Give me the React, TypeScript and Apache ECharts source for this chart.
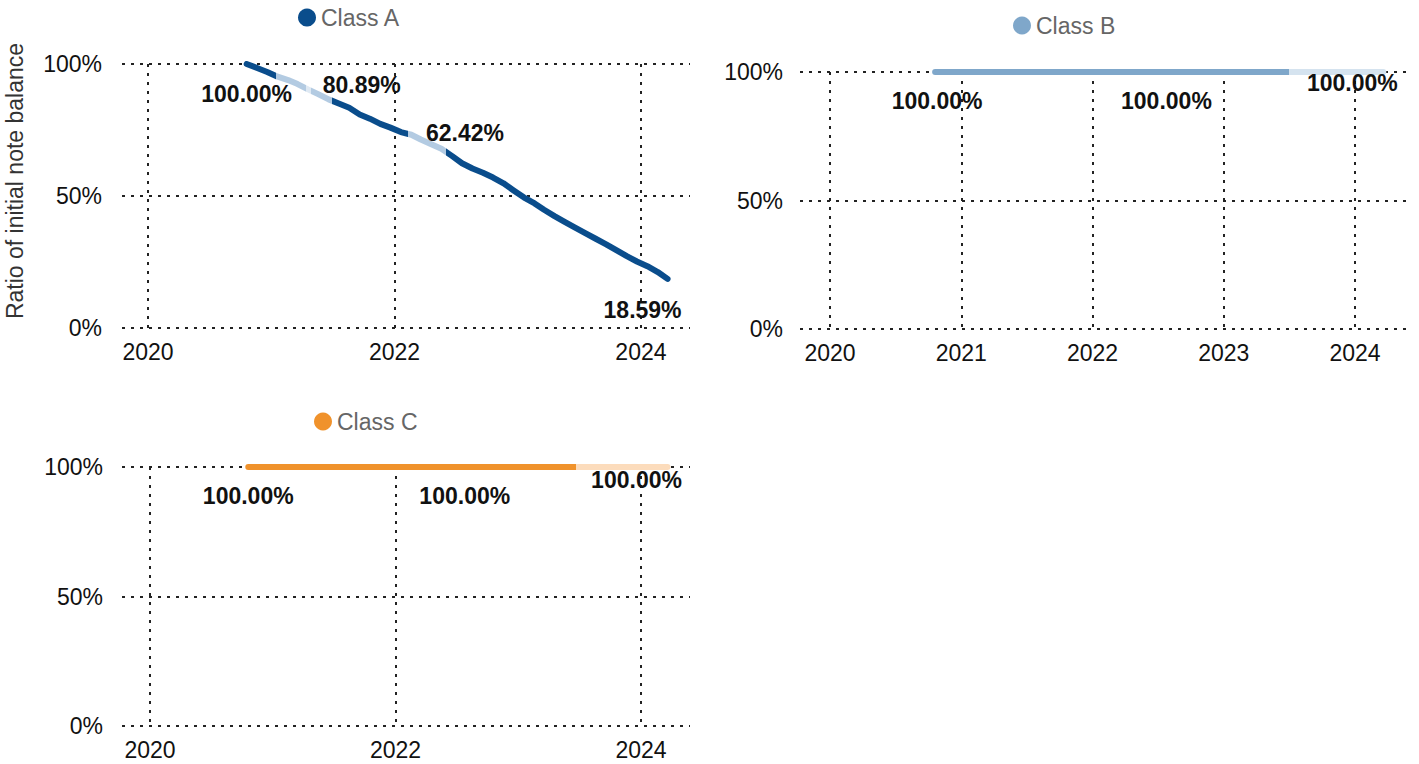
import React, { useEffect, useRef } from 'react';
import * as echarts from 'echarts';

const months = [
  '2020-10-20', '2020-11-20', '2020-12-20',
  '2021-01-20', '2021-02-20', '2021-03-20', '2021-04-20', '2021-05-20', '2021-06-20',
  '2021-07-20', '2021-08-20', '2021-09-20', '2021-10-20', '2021-11-20', '2021-12-20',
  '2022-01-20', '2022-02-20', '2022-03-20', '2022-04-20', '2022-05-20', '2022-06-20',
  '2022-07-20', '2022-08-20', '2022-09-20', '2022-10-20', '2022-11-20', '2022-12-20',
  '2023-01-20', '2023-02-20', '2023-03-20', '2023-04-20', '2023-05-20', '2023-06-20',
  '2023-07-20', '2023-08-20', '2023-09-20', '2023-10-20', '2023-11-20', '2023-12-20',
  '2024-01-20', '2024-02-20', '2024-03-20',
];

const classA = [
  100, 98.5, 97.0, 95.2, 93.9, 92.4, 90.4, 88.6, 86.6, 85.0, 83.4, 80.89,
  79.3, 77.3, 75.9, 74.2, 73.2, 71.4, 69.6, 67.9, 65.2, 62.42, 60.4, 58.8,
  57.0, 54.8, 52.1, 49.4, 47.2, 44.8, 42.4, 40.2, 38.0, 35.9, 33.8, 31.7,
  29.5, 27.2, 25.2, 23.4, 21.2, 18.59,
];
const classB = [
  100, 100, 100, 100, 100, 100, 100, 100, 100, 100, 100, 100,
  100, 100, 100, 100, 100, 100, 100, 100, 100, 100, 100, 100,
  100, 100, 100, 100, 100, 100, 100, 100, 100, 100, 100, 100,
  100, 100, 100, 100, 100, 100,
];
const classC = [
  100, 100, 100, 100, 100, 100, 100, 100, 100, 100, 100, 100,
  100, 100, 100, 100, 100, 100, 100, 100, 100, 100, 100, 100,
  100, 100, 100, 100, 100, 100, 100, 100, 100, 100, 100, 100,
  100, 100, 100, 100, 100, 100,
];

const seriesNames = ['Class A', 'Class B', 'Class C'];
const labeledA = [0, 11, 21, 41];
const labeledB = [0, 21, 41];
const labeledC = [0, 21, 41];

const yTicks = [0, 50, 100];
const xTicksA = [2020, 2022, 2024];
const xTicksB = [2020, 2021, 2022, 2023, 2024];
const xTicksC = [2020, 2022, 2024];

// light-segment ranges (in decimal years)
const lightA = [[2021.04, 2021.28], [2021.28, 2021.32], [2021.32, 2021.49], [2022.11, 2022.42]];
const lightB = [[2023.5, 2030]];
const lightC = [[2023.47, 2030]];

const FONT = '"Liberation Sans", Arial, Helvetica, sans-serif';

function toYear(s: string): number {
  const [y, m, d] = s.split('-').map(Number);
  const t = Date.UTC(y, m - 1, d);
  const a = Date.UTC(y, 0, 1);
  const b = Date.UTC(y + 1, 0, 1);
  return y + (t - a) / (b - a);
}

const xs = months.map(toYear);

export default function App() {
  const ref = useRef<HTMLDivElement>(null);

  useEffect(() => {
    if (!ref.current) return;
    const chart = echarts.init(ref.current, null, { renderer: 'svg' });

    const dark = ['#0a4d8c', '#7fa7ca', '#f0922b'];
    const light = ['#b3cbe2', '#d5e3ef', '#fcdcbc'];
    const extra = ['#dfe9f3', '#d5e3ef', '#fcdcbc'];
    const values = [classA, classB, classC];
    const labeled = [labeledA, labeledB, labeledC];
    const offsets = [
      [[0, 30], [2, -29], [3, -30], [-25, 31]],
      [[2, 29], [2, 29], [-31, 11]],
      [[0, 29], [2, 29], [-31, 13]],
    ];
    const lights = [lightA, lightB, lightC];

    const grids = [
      { left: 122, top: 64, width: 568, height: 264 },
      { left: 800, top: 72, width: 610, height: 257 },
      { left: 122, top: 467, width: 568, height: 259 },
    ];
    const xRanges = [
      [2019.789, 2024.398],
      [2019.771, 2024.419],
      [2019.772, 2024.399],
    ];
    const xTicks = [xTicksA, xTicksB, xTicksC];
    const yMargins = [20, 17, 19];

    const dotted = { type: [3, 6] as any, color: '#222', width: 2 };

    const xAxis = grids.map((_, i) => ({
      type: 'value',
      gridIndex: i,
      min: xRanges[i][0],
      max: xRanges[i][1],
      axisLine: { show: false },
      axisTick: { show: false, customValues: xTicks[i] },
      axisLabel: {
        customValues: xTicks[i],
        formatter: (v: number) => String(Math.round(v)),
        fontSize: 23,
        fontFamily: FONT,
        color: '#111',
        margin: 12,
      },
      splitLine: { show: true, lineStyle: dotted },
    }));

    const yAxis = grids.map((_, i) => ({
      type: 'value',
      gridIndex: i,
      min: yTicks[0],
      max: yTicks[yTicks.length - 1],
      interval: 50,
      axisLine: { show: false },
      axisTick: { show: false },
      axisLabel: {
        formatter: '{value}%',
        fontSize: 23,
        fontFamily: FONT,
        color: '#111',
        margin: yMargins[i],
      },
      splitLine: { show: true, lineStyle: dotted },
    }));

    const lineSeries = values.map((vals, i) => ({
      name: seriesNames[i],
      type: 'line',
      xAxisIndex: i,
      yAxisIndex: i,
      data: vals.map((v, k) => [xs[k], v]),
      showSymbol: false,
      symbol: 'circle',
      itemStyle: { color: dark[i] },
      lineStyle: { width: 6, cap: 'round', join: 'round' },
      z: 3,
    }));

    const labelSeries = values.map((vals, i) => ({
      name: seriesNames[i] + ' labels',
      type: 'scatter',
      xAxisIndex: i,
      yAxisIndex: i,
      symbolSize: 1,
      itemStyle: { color: 'rgba(0,0,0,0)', opacity: 1 },
      silent: true,
      z: 5,
      data: labeled[i].map((k, j) => ({
        value: [xs[k], vals[k]],
        label: {
          show: true,
          position: 'inside',
          offset: offsets[i][j],
          formatter: vals[k].toFixed(2) + '%',
          fontSize: 23,
          fontWeight: 'bold',
          fontFamily: FONT,
          color: '#111',
          opacity: 1,
          textBorderWidth: 0,
          textBorderColor: 'transparent',
        },
      })),
    }));

    const visualMap = lights.map((segs, i) => {
      const pieces: any[] = [];
      let prev = 1900;
      segs.forEach((s, j) => {
        pieces.push({ gte: prev, lt: s[0], color: dark[i] });
        const isExtra = i === 0 && j === 1;
        pieces.push({ gte: s[0], lt: s[1], color: isExtra ? extra[i] : light[i] });
        prev = s[1];
      });
      pieces.push({ gte: prev, lt: 3000, color: dark[i] });
      return {
        type: 'piecewise',
        show: false,
        seriesIndex: i,
        dimension: 0,
        pieces,
      };
    });

    const legendPos = [
      { left: 298, top: 6 },
      { left: 1013, top: 14 },
      { left: 314, top: 410 },
    ];
    const legend = seriesNames.map((n, i) => ({
      data: [{ name: n, icon: 'circle', itemStyle: { color: dark[i] } }],
      left: legendPos[i].left,
      top: legendPos[i].top,
      padding: 0,
      itemWidth: 18,
      itemHeight: 18,
      itemGap: 6,
      selectedMode: false,
      textStyle: { fontSize: 23, fontFamily: FONT, color: '#666' },
    }));

    chart.setOption({
      animation: false,
      backgroundColor: '#ffffff',
      grid: grids,
      xAxis,
      yAxis,
      legend,
      visualMap,
      series: [...lineSeries, ...labelSeries],
      graphic: [
        {
          type: 'text',
          x: 15,
          y: 181,
          rotation: Math.PI / 2,
          style: {
            text: 'Ratio of initial note balance',
            fontSize: 23,
            fontFamily: FONT,
            fill: '#333',
            align: 'center',
            verticalAlign: 'middle',
          },
        },
      ],
    });

    return () => chart.dispose();
  }, []);

  return (
    <div
      ref={ref}
      style={{ position: 'fixed', left: 0, top: 0, width: 1419, height: 764, background: '#fff' }}
    />
  );
}
